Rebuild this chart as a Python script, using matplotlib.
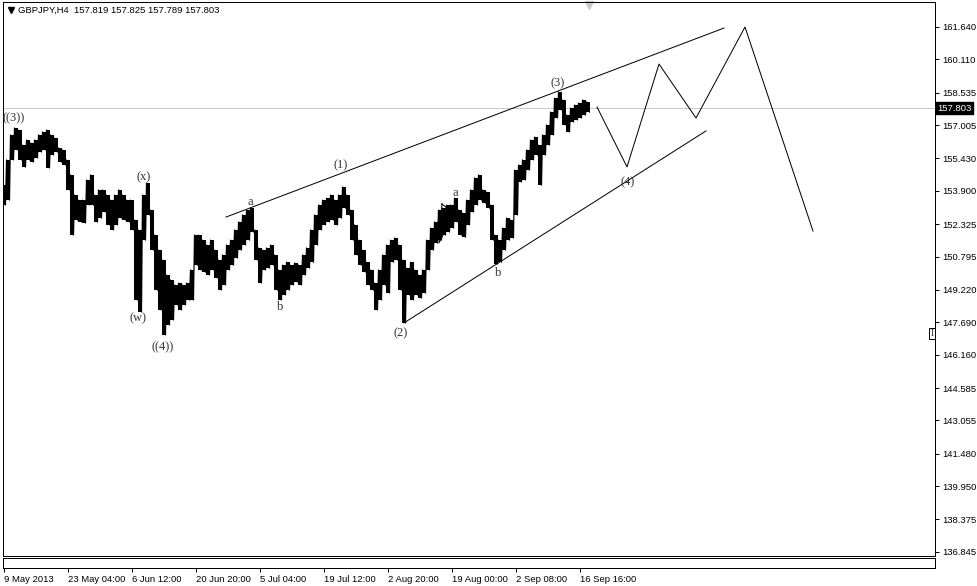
import matplotlib
matplotlib.use('agg')
import matplotlib.pyplot as plt
import matplotlib.transforms as mtransforms
import numpy as np

# ---------------- data ----------------
symbol_line = "GBPJPY,H4  157.819 157.825 157.789 157.803"
last_price = 157.803
bar_step = 4   # one sample every 4 H4 bars

highs = [154.17, 155.36, 156.54, 156.87, 156.77, 156.06, 156.30, 156.16, 156.30, 156.54,
         156.68, 156.77, 156.54, 156.39, 155.92, 155.83, 155.36, 154.65, 153.70, 153.46,
         153.46, 154.41, 154.65, 153.70, 153.94, 153.94, 153.70, 153.46, 153.70, 153.94,
         153.70, 153.46, 153.46, 152.52, 152.05, 153.70, 154.27, 152.99, 151.81, 151.10,
         150.63, 149.92, 149.69, 149.45, 149.54, 149.45, 149.54, 150.16, 151.81, 151.81,
         151.57, 151.34, 151.57, 151.10, 150.63, 150.87, 151.34, 151.57, 152.05, 152.43,
         152.76, 152.99, 153.08, 152.05, 151.20, 151.10, 151.20, 151.34, 150.87, 150.16,
         150.39, 150.53, 150.39, 150.49, 150.39, 150.87, 151.20, 152.05, 152.76, 153.23,
         153.46, 153.55, 153.70, 153.46, 153.70, 154.08, 153.70, 152.99, 152.29, 151.57,
         151.10, 150.53, 150.16, 149.54, 150.16, 150.87, 151.34, 151.57, 151.67, 151.34,
         150.63, 150.25, 150.53, 150.16, 149.92, 150.16, 151.57, 152.14, 152.43, 152.99,
         153.08, 153.23, 153.23, 153.55, 152.99, 152.85, 153.46, 153.94, 154.51, 154.65,
         153.94, 153.84, 153.23, 151.81, 151.57, 152.14, 152.61, 152.52, 154.88, 155.12,
         155.36, 155.83, 156.30, 156.44, 156.06, 156.54, 157.01, 157.62, 158.28, 158.57,
         158.19, 157.48, 157.81, 157.95, 158.05, 158.19, 158.10]
lows = [153.23, 153.46, 155.36, 155.83, 155.36, 155.02, 155.36, 155.26, 155.45, 155.73,
        155.83, 154.98, 155.59, 155.73, 155.26, 155.12, 153.94, 151.81, 152.52, 152.43,
        152.38, 153.23, 153.23, 152.43, 152.61, 152.90, 152.29, 152.05, 152.29, 152.61,
        152.52, 152.43, 152.05, 148.74, 148.18, 151.57, 152.76, 151.10, 149.21, 148.27,
        147.09, 147.56, 147.80, 148.51, 148.27, 148.51, 148.74, 148.74, 150.39, 150.16,
        150.06, 149.92, 150.16, 149.78, 149.21, 149.45, 150.16, 150.39, 150.72, 151.10,
        151.34, 151.57, 151.95, 150.63, 149.54, 150.16, 150.25, 150.39, 149.21, 148.74,
        148.98, 149.21, 149.45, 149.59, 149.45, 149.92, 150.25, 150.53, 151.34, 152.05,
        152.29, 152.43, 152.52, 152.29, 152.61, 153.08, 152.76, 151.57, 150.87, 150.39,
        150.06, 149.45, 149.21, 148.27, 148.74, 149.45, 149.07, 150.53, 150.63, 149.21,
        147.66, 148.98, 148.74, 148.98, 148.83, 149.07, 150.16, 151.10, 151.43, 151.57,
        151.81, 151.95, 152.14, 152.43, 151.81, 151.71, 152.29, 152.90, 153.23, 153.46,
        153.32, 153.08, 151.57, 150.44, 150.53, 151.10, 151.57, 151.67, 152.76, 154.32,
        154.41, 154.88, 155.36, 155.59, 154.17, 155.59, 156.06, 156.54, 157.34, 157.72,
        157.01, 156.68, 157.15, 157.25, 157.34, 157.48, 157.62]

price_ticks = [161.640, 160.110, 158.535, 157.005, 155.430, 153.900, 152.325, 150.795,
               149.220, 147.690, 146.160, 144.585, 143.055, 141.480, 139.950, 138.375, 136.845]
time_ticks = [0, 64, 128, 192, 256, 320, 384, 448, 512, 576]
time_labels = ["9 May 2013", "23 May 04:00", "6 Jun 12:00", "20 Jun 20:00", "5 Jul 04:00",
               "19 Jul 12:00", "2 Aug 20:00", "19 Aug 00:00", "2 Sep 08:00", "16 Sep 16:00"]

# Elliott wave labels
wave_text = ["((3))", "(x)", "(w)", "((4))", "a", "b", "(1)", "(2)", "a", "b", "(3)", "(4)"]
wave_bar = [10, 140, 134, 159, 246, 276, 337, 397, 451, 494, 554, 624]
wave_price = [157.34, 154.55, 147.89, 146.52, 153.37, 148.41, 155.12, 147.18,
              153.80, 150.02, 158.99, 154.32]

# trend lines and projected path
upper_bar, upper_price = [222, 720], [152.66, 161.59]
lower_bar, lower_price = [400, 702], [147.66, 156.73]
path_bar = [593, 623, 655, 692, 741, 809]
path_price = [157.86, 155.03, 159.89, 157.34, 161.64, 152.00]
tri_bar = [438, 450, 435, 438]
tri_price = [153.28, 152.81, 151.44, 153.28]

# ---------------- figure ----------------
W, H = 978, 586
fig = plt.figure(figsize=(W / 100, H / 100), dpi=100)
px = 0.72  # one pixel in points

ax = fig.add_axes([3 / W, (H - 555.5) / H, 932 / W, 553.5 / H])
ax2 = fig.add_axes([3 / W, (H - 568) / H, 932 / W, 10 / H])

xlim = (-1, 931)
ax.set_xlim(*xlim)
ax.set_ylim(136.673, 162.82)
ax2.set_xlim(*xlim)
ax2.set_ylim(0, 1)

for a in (ax, ax2):
    for s in a.spines.values():
        s.set_linewidth(px)
        s.set_color('black')

# price bars: a solid high-low block per sample, zigzag on top to roughen the edges
x = np.arange(len(highs)) * bar_step
ax.vlines(x, lows, highs, color='black', linewidth=bar_step * px, capstyle='butt')
zx = np.column_stack([x - 1.5, x + 1.5]).ravel()
zy = np.column_stack([highs, lows]).ravel()
ax.plot(zx, zy, color='black', linewidth=1.2 * px)

# bid line
ax.axhline(last_price, color='#c8c8c8', linewidth=px, zorder=0)

# channel lines, triangle and projection
ax.plot(upper_bar, upper_price, color='black', linewidth=px)
ax.plot(lower_bar, lower_price, color='black', linewidth=px)
ax.plot(path_bar, path_price, color='black', linewidth=px)
ax.plot(tri_bar, tri_price, color='black', linewidth=px)

for t, b, p in zip(wave_text, wave_bar, wave_price):
    ax.text(b, p, t, ha='center', va='center', fontsize=9,
            family='Liberation Serif', color='#333333')

# right price scale
ax.yaxis.tick_right()
ax.set_yticks(price_ticks)
ax.set_yticklabels([f"{v:.3f}" for v in price_ticks])
ax.tick_params(axis='y', direction='out', length=3, width=px, pad=2,
               labelsize=6.8, labelfontfamily='Liberation Sans')
ax.set_xticks([])

# bid price box
trans = mtransforms.blended_transform_factory(ax.transAxes, ax.transData)
ax.text(1 + 2.5 / 932, last_price, f"{last_price:.3f}", transform=trans, ha='left',
        va='center', fontsize=6.8, family='Liberation Sans', color='white',
        bbox=dict(boxstyle='square,pad=0.15', facecolor='black', edgecolor='black'))

# small text object at the right edge
ax.text(928, 147.14, "I", ha='center', va='center', fontsize=7, family='Liberation Serif',
        color='#333333', clip_on=False,
        bbox=dict(boxstyle='square,pad=0.1', facecolor='white', edgecolor='black',
                  linewidth=px))

# header text and markers
ax.plot([8 / 932], [1 - 8 / 553.5], marker='v', color='black', markersize=4,
        transform=ax.transAxes, clip_on=False)
ax.text(15 / 932, 1 - 8 / 553.5, symbol_line, transform=ax.transAxes, ha='left',
        va='center', fontsize=6.8, family='Liberation Sans', color='black')
ax.plot([585], [1 - 3 / 553.5], marker='v', color='#c8c8c8', markersize=6,
        transform=mtransforms.blended_transform_factory(ax.transData, ax.transAxes),
        clip_on=False)

# time scale on the lower panel
ax2.set_yticks([])
ax2.set_xticks(time_ticks)
ax2.set_xticklabels(time_labels)
ax2.tick_params(axis='x', direction='out', length=3, width=px, pad=2,
                labelsize=6.8, labelfontfamily='Liberation Sans')
for lab in ax2.get_xticklabels():
    lab.set_horizontalalignment('left')

fig.savefig('out.png', dpi=100)
